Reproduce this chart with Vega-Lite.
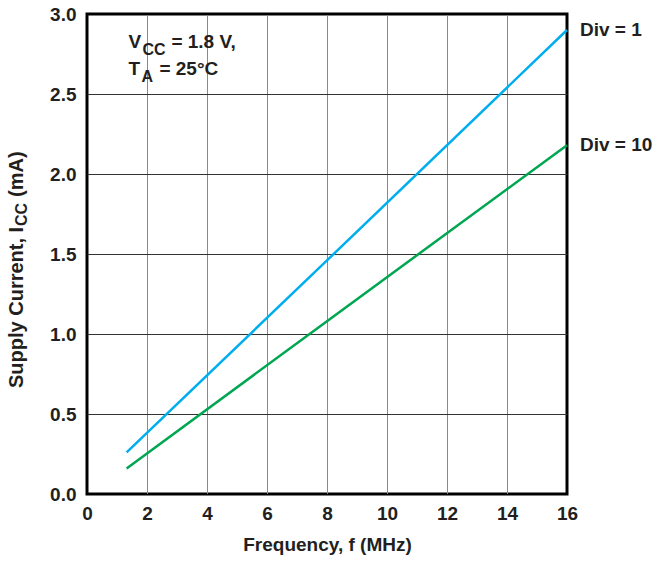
{
  "$schema": "https://vega.github.io/schema/vega-lite/v6.json",
  "width": 480,
  "height": 480,
  "autosize": "none",
  "padding": {"left": 87, "top": 14, "right": 90, "bottom": 68},
  "background": "white",
  "config": {
    "view": {"stroke": "#000000", "strokeWidth": 3},
    "font": "Liberation Sans",
    "axis": {
      "labelFont": "Liberation Sans",
      "labelFontWeight": "bold",
      "labelFontSize": 19,
      "labelColor": "#231f20",
      "titleFont": "Liberation Sans",
      "titleFontWeight": "bold",
      "titleFontSize": 19,
      "titleColor": "#231f20",
      "ticks": false,
      "tickSize": 0,
      "domain": false,
      "labelFlush": false,
      "labelOverlap": false,
      "gridWidth": 1
    }
  },
  "layer": [
    {
      "data": {
        "values": [
          {"f": 1.32, "icc": 0.26, "series": "Div = 1"},
          {"f": 8, "icc": 1.46, "series": "Div = 1"},
          {"f": 16, "icc": 2.9, "series": "Div = 1"},
          {"f": 1.32, "icc": 0.16, "series": "Div = 10"},
          {"f": 8, "icc": 1.08, "series": "Div = 10"},
          {"f": 16, "icc": 2.18, "series": "Div = 10"}
        ]
      },
      "layer": [
        {
          "mark": {"type": "line", "strokeWidth": 2.5},
          "encoding": {
            "x": {
              "field": "f",
              "type": "quantitative",
              "scale": {"domain": [0, 16], "nice": false, "zero": false},
              "axis": {
                "values": [0, 2, 4, 6, 8, 10, 12, 14, 16],
                "title": "Frequency, f (MHz)",
                "labelPadding": 10,
                "titlePadding": 12,
                "gridColor": {"condition": {"test": "datum.value === 0 || datum.value === 16", "value": "#000000"}, "value": "#8a8a8a"}
              }
            },
            "y": {
              "field": "icc",
              "type": "quantitative",
              "scale": {"domain": [0, 3], "nice": false},
              "axis": {
                "values": [0, 0.5, 1, 1.5, 2, 2.5, 3],
                "format": ".1f",
                "title": null,
                "labelPadding": 11,
                "gridColor": {"condition": {"test": "datum.value === 0 || datum.value === 3", "value": "#000000"}, "value": "#333333"}
              }
            },
            "color": {
              "field": "series",
              "type": "nominal",
              "scale": {"domain": ["Div = 1", "Div = 10"], "range": ["#00aeef", "#00a651"]},
              "legend": null
            }
          }
        },
        {
          "transform": [{"filter": "datum.f === 16"}],
          "mark": {"type": "text", "align": "left", "baseline": "middle", "dx": 13, "fontSize": 19, "fontWeight": "bold", "color": "#231f20"},
          "encoding": {
            "x": {"field": "f", "type": "quantitative"},
            "y": {"field": "icc", "type": "quantitative"},
            "text": {"field": "series"}
          }
        }
      ]
    },
    {
      "data": {"values": [{"f": 1.38, "icc": 2.7875, "t": "V"}, {"f": 1.38, "icc": 2.619, "t": "T"}]},
      "mark": {"type": "text", "align": "left", "baseline": "alphabetic", "fontSize": 19, "fontWeight": "bold", "color": "#231f20"},
      "encoding": {"x": {"field": "f", "type": "quantitative"}, "y": {"field": "icc", "type": "quantitative"}, "text": {"field": "t"}}
    },
    {
      "data": {"values": [{"f": 1.38, "icc": 2.7875, "t": "CC"}]},
      "mark": {"type": "text", "align": "left", "baseline": "alphabetic", "dx": 14, "dy": 7, "fontSize": 16, "fontWeight": "bold", "color": "#231f20"},
      "encoding": {"x": {"field": "f", "type": "quantitative"}, "y": {"field": "icc", "type": "quantitative"}, "text": {"field": "t"}}
    },
    {
      "data": {"values": [{"f": 1.38, "icc": 2.619, "t": "A"}]},
      "mark": {"type": "text", "align": "left", "baseline": "alphabetic", "dx": 13, "dy": 7, "fontSize": 16, "fontWeight": "bold", "color": "#231f20"},
      "encoding": {"x": {"field": "f", "type": "quantitative"}, "y": {"field": "icc", "type": "quantitative"}, "text": {"field": "t"}}
    },
    {
      "data": {"values": [{"f": 1.38, "icc": 2.7875, "t": "= 1.8 V,"}]},
      "mark": {"type": "text", "align": "left", "baseline": "alphabetic", "dx": 43, "fontSize": 19, "fontWeight": "bold", "color": "#231f20"},
      "encoding": {"x": {"field": "f", "type": "quantitative"}, "y": {"field": "icc", "type": "quantitative"}, "text": {"field": "t"}}
    },
    {
      "data": {"values": [{"f": 1.38, "icc": 2.619, "t": "= 25°C"}]},
      "mark": {"type": "text", "align": "left", "baseline": "alphabetic", "dx": 31, "fontSize": 19, "fontWeight": "bold", "color": "#231f20"},
      "encoding": {"x": {"field": "f", "type": "quantitative"}, "y": {"field": "icc", "type": "quantitative"}, "text": {"field": "t"}}
    },
    {
      "data": {"values": [{"f": -2.33, "icc": 0.6625, "t": "Supply Current, I"}]},
      "mark": {"type": "text", "align": "left", "baseline": "middle", "angle": 270, "fontSize": 20, "fontWeight": "bold", "color": "#231f20"},
      "encoding": {"x": {"field": "f", "type": "quantitative"}, "y": {"field": "icc", "type": "quantitative"}, "text": {"field": "t"}}
    },
    {
      "data": {"values": [{"f": -2.33, "icc": 0.6625, "t": "CC"}]},
      "mark": {"type": "text", "align": "left", "baseline": "middle", "angle": 270, "dx": 162, "dy": 5, "fontSize": 16, "fontWeight": "bold", "color": "#231f20"},
      "encoding": {"x": {"field": "f", "type": "quantitative"}, "y": {"field": "icc", "type": "quantitative"}, "text": {"field": "t"}}
    },
    {
      "data": {"values": [{"f": -2.33, "icc": 0.6625, "t": "(mA)"}]},
      "mark": {"type": "text", "align": "left", "baseline": "middle", "angle": 270, "dx": 191, "fontSize": 20, "fontWeight": "bold", "color": "#231f20"},
      "encoding": {"x": {"field": "f", "type": "quantitative"}, "y": {"field": "icc", "type": "quantitative"}, "text": {"field": "t"}}
    }
  ]
}
